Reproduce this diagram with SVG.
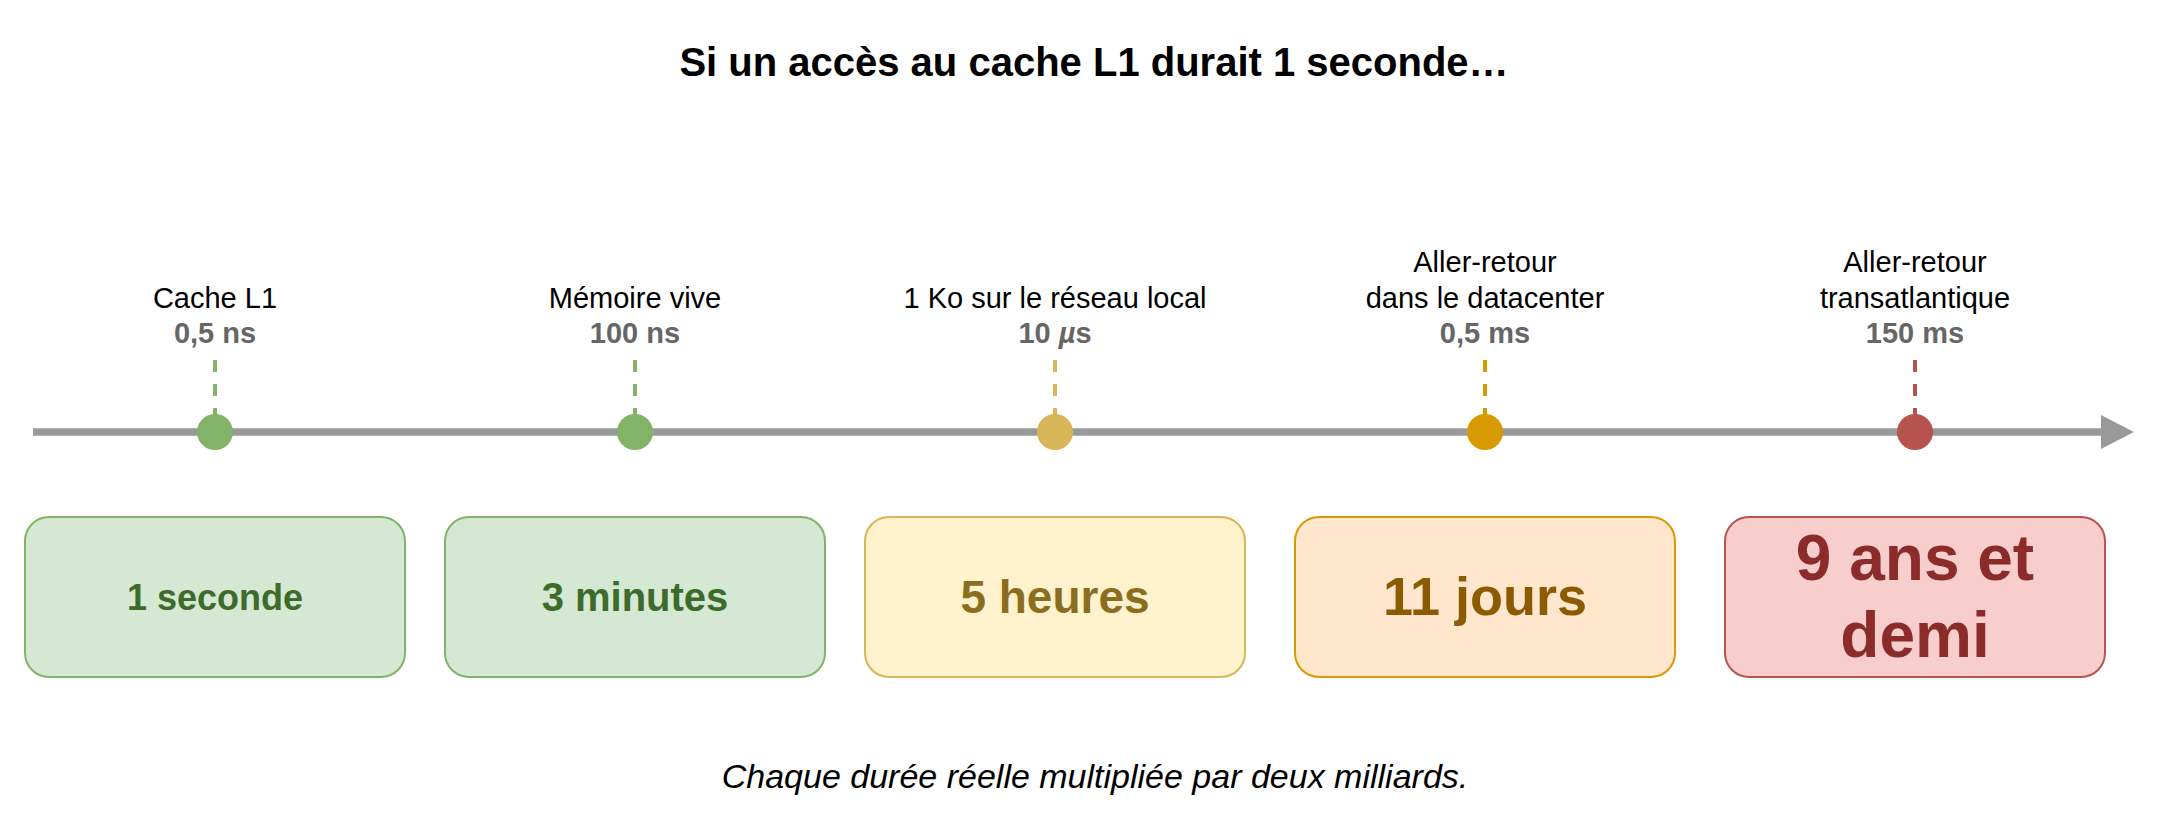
<svg xmlns="http://www.w3.org/2000/svg" width="2170" height="832" viewBox="0 0 2170 832">
<style>
text{font-family:"Liberation Sans",Arial,Helvetica,sans-serif;text-anchor:middle}
.title{font-size:40px;font-weight:bold;fill:#000}
.lbl{font-size:29px;fill:#000}
.val{font-size:29px;font-weight:bold;fill:#666666}
.cap{font-size:34px;font-style:italic;fill:#000}
.box{stroke-width:2}
.big{font-weight:bold}
.tick{stroke-width:4;stroke-dasharray:12 12;fill:none}
.g .box{fill:#d5e8d4;stroke:#82b366}
.g .tick{stroke:#82b366}
.g .dot{fill:#82b366}
.g .big{fill:#3d6b2a}
.y .box{fill:#fff2cc;stroke:#d6b656}
.y .tick{stroke:#d6b656}
.y .dot{fill:#d6b656}
.y .big{fill:#8a6d1f}
.o .box{fill:#ffe6cc;stroke:#d79b00}
.o .tick{stroke:#d79b00}
.o .dot{fill:#d79b00}
.o .big{fill:#8c5a00}
.r .box{fill:#f8cecc;stroke:#b85450}
.r .tick{stroke:#b85450}
.r .dot{fill:#b85450}
.r .big{fill:#8b2c2b}
</style>
<defs>
<marker id="arrow" markerUnits="userSpaceOnUse" markerWidth="34" markerHeight="34" refX="0" refY="17" orient="auto">
<path d="M0,0 L33,17 L0,34 Z" fill="#999999"/>
</marker>
</defs>
<text id="title" class="title" x="1094" y="76">Si un accès au cache L1 durait 1 seconde…</text>
<g id="connectors">
<line x1="33" y1="432" x2="2101" y2="432" stroke="#999999" stroke-width="7.5" marker-end="url(#arrow)"/>
</g>
<g id="n1" class="g">
<line class="tick" x1="215" y1="360" x2="215" y2="420"/>
<circle class="dot" cx="215" cy="432" r="18"/>
<text class="lbl" x="215" y="308">Cache L1</text>
<text class="val" x="215" y="343">0,5 ns</text>
<rect class="box" x="25" y="517" width="380" height="160" rx="24"/>
<text class="big" x="215" y="610" font-size="36">1 seconde</text>
</g>
<g id="n2" class="g">
<line class="tick" x1="635" y1="360" x2="635" y2="420"/>
<circle class="dot" cx="635" cy="432" r="18"/>
<text class="lbl" x="635" y="308">Mémoire vive</text>
<text class="val" x="635" y="343">100 ns</text>
<rect class="box" x="445" y="517" width="380" height="160" rx="24"/>
<text class="big" x="635" y="611" font-size="40">3 minutes</text>
</g>
<g id="n3" class="y">
<line class="tick" x1="1055" y1="360" x2="1055" y2="420"/>
<circle class="dot" cx="1055" cy="432" r="18"/>
<text class="lbl" x="1055" y="308">1 Ko sur le réseau local</text>
<text class="val" x="1055" y="343">10 <tspan font-style="italic">µ</tspan>s</text>
<rect class="box" x="865" y="517" width="380" height="160" rx="24"/>
<text class="big" x="1055" y="613" font-size="46">5 heures</text>
</g>
<g id="n4" class="o">
<line class="tick" x1="1485" y1="360" x2="1485" y2="420"/>
<circle class="dot" cx="1485" cy="432" r="18"/>
<text class="lbl" x="1485" y="272">Aller-retour</text>
<text class="lbl" x="1485" y="308">dans le datacenter</text>
<text class="val" x="1485" y="343">0,5 ms</text>
<rect class="box" x="1295" y="517" width="380" height="160" rx="24"/>
<text class="big" x="1485" y="615" font-size="54">11 jours</text>
</g>
<g id="n5" class="r">
<line class="tick" x1="1915" y1="360" x2="1915" y2="420"/>
<circle class="dot" cx="1915" cy="432" r="18"/>
<text class="lbl" x="1915" y="272">Aller-retour</text>
<text class="lbl" x="1915" y="308">transatlantique</text>
<text class="val" x="1915" y="343">150 ms</text>
<rect class="box" x="1725" y="517" width="380" height="160" rx="24"/>
<text class="big" x="1915" y="580" font-size="64">9 ans et</text>
<text class="big" x="1915" y="657" font-size="64">demi</text>
</g>
<text id="caption" class="cap" x="1095" y="788">Chaque durée réelle multipliée par deux milliards.</text>
</svg>
